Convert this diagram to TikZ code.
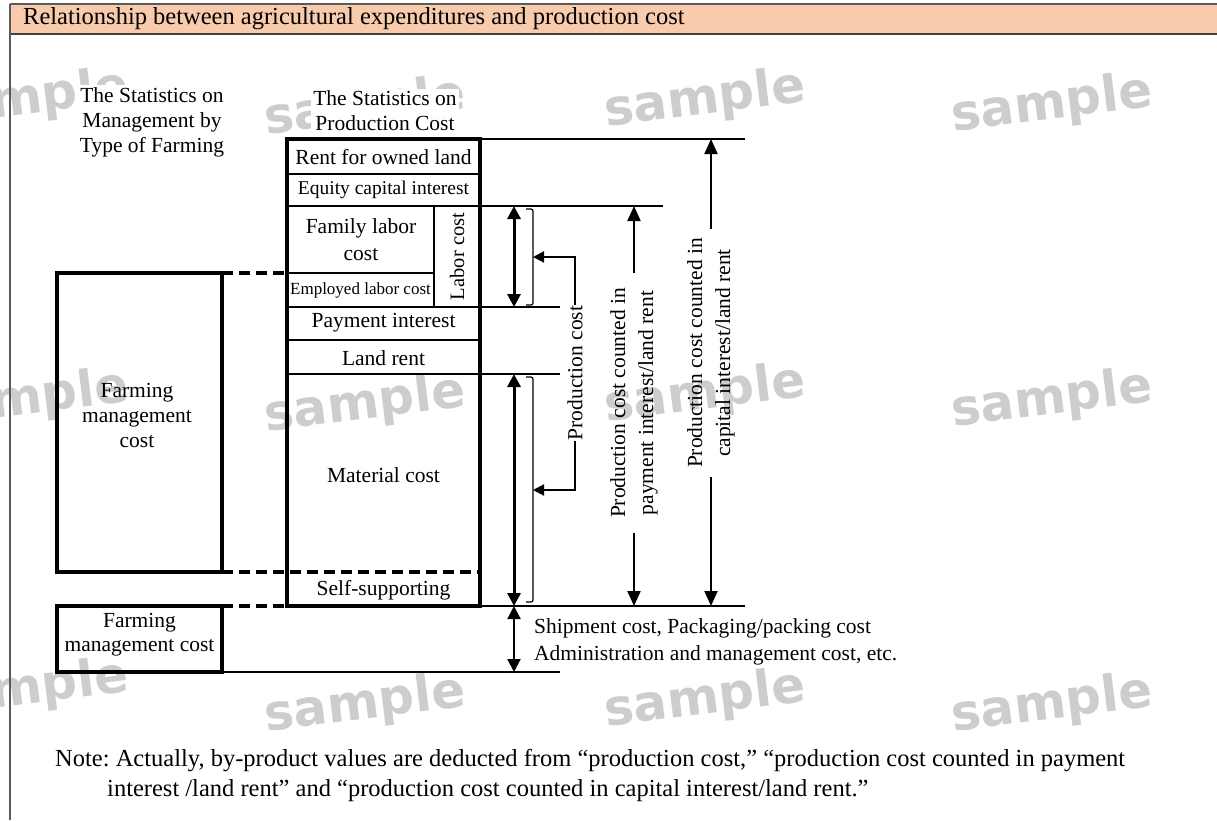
\documentclass[tikz,border=0pt]{standalone}
\usepackage{fontspec}
\setmainfont{Liberation Serif}
\newfontfamily\markfont{DejaVu Sans}
\usetikzlibrary{arrows.meta}
\definecolor{headpeach}{HTML}{F8CBAD}
\definecolor{framegray}{HTML}{5A5A5A}
\definecolor{markgray}{HTML}{CDCDCD}
\frenchspacing

\begin{document}
\begin{tikzpicture}[x=1pt, y=-1pt,
    txt/.style={font=\fontsize{21.5}{25}\selectfont, inner sep=0pt, align=center},
    smalltxt/.style={font=\fontsize{19.5}{22}\selectfont, inner sep=0pt},
    tinytxt/.style={font=\fontsize{17}{20}\selectfont, inner sep=0pt},
    boxline/.style={line width=3.5pt},
    sepline/.style={line width=2pt},
    refline/.style={line width=2pt},
    dashline/.style={line width=3.5pt, dash pattern=on 11pt off 6pt},
    dblarrow/.style={line width=3pt, {Triangle[length=13pt,width=13pt]}-{Triangle[length=13pt,width=13pt]}},
    onearrow/.style={line width=2pt, -{Triangle[length=15pt,width=13pt]}},
    brace/.style={line width=1.2pt, rounded corners=2pt},
    pointer/.style={line width=2pt, -{Triangle[length=11pt,width=11pt]}},
    watermark/.style={font=\markfont\bfseries\fontsize{50}{50}\selectfont, text=markgray, rotate=7}
  ]
  \useasboundingbox (0,0) rectangle (1217,820);

  % watermarks
  \begin{scope}
    \clip (0,0) rectangle (1217,820);
    \foreach \i/\mx/\my in {1/28/100, 2/365/108, 3/705/100, 4/1052/105,
                            5/28/400, 6/365/405, 7/705/395, 8/1052/400,
                            9/28/690, 10/365/705, 11/705/700, 12/1052/705}
      \node[watermark] (mark-\i) at (\mx,\my) {sample};
  \end{scope}

  % frame and title band
  \fill[headpeach] (10,4) rectangle (1217,34);
  \draw[framegray, line width=1.5pt] (10,4) -- (1217,4);
  \draw[black!75, line width=1.5pt] (10,34) -- (1217,34);
  \draw[framegray, line width=1.5pt] (10,4) -- (10,820);
  \node[anchor=west, inner sep=0pt, font=\fontsize{24.5}{27}\selectfont] (title) at (23,19)
    {Relationship between agricultural expenditures and production cost};

  % guides
  \coordinate (xa) at (57,0);   % left box, left
  \coordinate (xb) at (222,0);  % left box, right
  \coordinate (xc) at (287,0);  % stack, left
  \coordinate (xd) at (434,0);  % labor cost divider
  \coordinate (xe) at (480,0);  % stack, right
  \coordinate (xar) at (514,0); % double arrows
  \coordinate (xf) at (560,0);
  \coordinate (xg) at (663,0);
  \coordinate (xh) at (745,0);
  \coordinate (L1) at (0,139);
  \coordinate (L2) at (0,174);
  \coordinate (L3) at (0,206);
  \coordinate (L4) at (0,273);
  \coordinate (L5) at (0,307);
  \coordinate (L6) at (0,340);
  \coordinate (L7) at (0,374);
  \coordinate (L8) at (0,572);
  \coordinate (L9) at (0,606);
  \coordinate (L10) at (0,672);

  % headings
  \node[txt, fill=white, inner sep=2pt] (headmgmt) at (152,122)
    {The Statistics on\\Management by\\Type of Farming};
  \node[txt, fill=white, inner sep=2pt] (headprod) at (385,111)
    {The Statistics on\\Production Cost};

  % production cost stack
  \draw[boxline] (L1 -| xc) rectangle (L9 -| xe);
  \draw[sepline] (L2 -| xc) -- (L2 -| xe);
  \draw[sepline] (L3 -| xc) -- (L3 -| xe);
  \draw[sepline] (L4 -| xc) -- (L4 -| xd);
  \draw[sepline] (L3 -| xd) -- (L5 -| xd);
  \draw[sepline] (L5 -| xc) -- (L5 -| xe);
  \draw[sepline] (L6 -| xc) -- (L6 -| xe);
  \draw[sepline] (L7 -| xc) -- (L7 -| xe);
  \draw[dashline] (L8 -| xb) -- (L8 -| xe);

  \node[txt] (ownrent) at (383.5,157.5) {Rent for owned land};
  \node[smalltxt] (equity) at (383.5,190) {Equity capital interest};
  \node[txt, font=\fontsize{21.5}{27}\selectfont] (family) at (361,240) {Family labor\\cost};
  \node[tinytxt] (employed) at (360.5,290.5) {Employed labor cost};
  \node[txt, rotate=90, font=\fontsize{20.5}{24}\selectfont] (laborcost) at (457,256.5) {Labor cost};
  \node[txt] (payint) at (383.5,323) {Payment interest};
  \node[txt] (landrent) at (383.5,358) {Land rent};
  \node[txt] (material) at (383.5,475) {Material cost};
  \node[txt] (selfsup) at (383.5,590) {Self-supporting};

  % farming management boxes
  \draw[boxline] (L4 -| xa) rectangle (L8 -| xb);
  \draw[boxline] (L9 -| xa) rectangle (L10 -| xb);
  \draw[dashline] (L4 -| xb) -- (L4 -| xc);
  \draw[dashline] (L9 -| xb) -- (L9 -| xc);
  \node[txt] (mgmtbig) at (137,415) {Farming\\management\\cost};
  \node[txt, font=\fontsize{21.5}{24}\selectfont] (mgmtsmall) at (139.5,635) {Farming\\management cost};

  % level lines
  \draw[refline] (L1 -| xe) -- (L1 -| xh);
  \draw[refline] (L3 -| xe) -- (L3 -| xg);
  \draw[refline] (L5 -| xe) -- (L5 -| xf);
  \draw[refline] (L7 -| xe) -- (L7 -| xf);
  \draw[refline] (L9 -| xe) -- (L9 -| xh);
  \draw[refline] (L10 -| xb) -- (L10 -| xf);

  % double arrows
  \draw[dblarrow] (L3 -| xar) -- (L5 -| xar);
  \draw[dblarrow] (L7 -| xar) -- (L9 -| xar);
  \draw[dblarrow, line width=2pt] (L9 -| xar) -- (L10 -| xar);

  % production cost
  \draw[brace] (526,209) -- (533,209) -- (533,305) -- (526,305);
  \draw[brace] (526,377) -- (533,377) -- (533,602) -- (526,602);
  \coordinate (brkA) at (533,257);
  \coordinate (brkB) at (533,490);
  \node[txt, rotate=90, inner sep=1pt] (pcost) at (575,373) {Production cost};
  \draw[pointer] (pcost.east) |- (brkA);
  \draw[pointer] (pcost.west) |- (brkB);

  % counted in payment interest / land rent
  \node[txt, rotate=90, inner xsep=15pt, font=\fontsize{21.5}{28}\selectfont] (ppc) at (634,403)
    {Production cost counted in\\payment interest/land rent};
  \draw[onearrow] (ppc.east) -- (L3 -| ppc.east);
  \draw[onearrow] (ppc.west) -- (L9 -| ppc.west);

  % counted in capital interest / land rent
  \node[txt, rotate=90, inner xsep=9pt, font=\fontsize{21.5}{28}\selectfont] (cpc) at (711,353)
    {Production cost counted in\\capital interest/land rent};
  \draw[onearrow] (cpc.east) -- (L1 -| cpc.east);
  \draw[onearrow] (cpc.west) -- (L9 -| cpc.west);

  % other costs
  \node[anchor=west, align=left, inner sep=0pt, font=\fontsize{21.5}{27}\selectfont] (shipment) at (534,642)
    {Shipment cost, Packaging/packing cost\\Administration and management cost, etc.};

  % note
  \node[anchor=west, align=left, inner sep=0pt, font=\fontsize{24.5}{30}\selectfont] (note) at (55,775)
    {Note: Actually, by-product values are deducted from “production cost,” “production cost counted in payment\\
     \hspace*{52pt}interest /land rent” and “production cost counted in capital interest/land rent.”};
\end{tikzpicture}
\end{document}
